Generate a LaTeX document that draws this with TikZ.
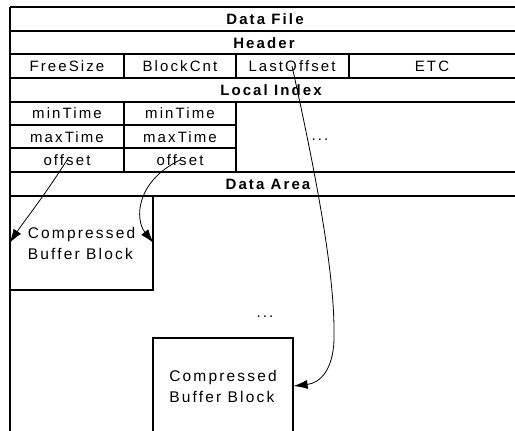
\documentclass[tikz,border=0pt]{standalone}
\usepackage{fontspec}
\setmainfont{Liberation Sans}[LetterSpace=14]
\usetikzlibrary{arrows.meta}

\tikzset{
  cell/.style={inner sep=0pt, font=\fontsize{15}{21}\selectfont},
  bcell/.style={inner sep=0pt, font=\fontsize{15}{21}\selectfont\bfseries},
  block/.style={draw, line width=1.1pt, inner sep=0pt, align=left,
    font=\fontsize{15.5}{21}\selectfont},
  ptr/.style={-{Latex[length=14pt,width=9pt]}, line width=0.8pt},
}

\begin{document}
\begin{tikzpicture}[x=1pt, y=-1pt, line width=1.2pt]
    \useasboundingbox (0,0) rectangle (515,431);
    % frame
    \draw (10,7) -- (516,7);
    \foreach \y in {31,54,78,102,172,196}
      \draw (10,\y) -- (516,\y);
    \draw (10,125) -- (236,125);
    \draw (10,148) -- (236,148);
    \draw (10,7) -- (10,433);
    % header fields
    \draw (124,54) -- (124,78) (236,54) -- (236,78) (349,54) -- (349,78);
    % local index
    \draw (124,102) -- (124,172) (236,102) -- (236,172);
    % titles
    \node [bcell] (file)  at (265,19)  {Data File};
    \node [bcell] (hdr)   at (264,43)  {Header};
    \node [bcell] (lidx)  at (271,90)  {Local Index};
    \node [bcell] (darea) at (268,184) {Data Area};
    % header row
    \node [cell] (free)    at (67,66)  {FreeSize};
    \node [cell] (bcnt)    at (180,66) {BlockCnt};
    \node [cell] (lastoff) at (292,66) {LastOffset};
    \node [cell] (etc)     at (432,66) {ETC};
    % index entries
    \node [cell] (min1) at (67,113)  {minTime};
    \node [cell] (min2) at (180,113) {minTime};
    \node [cell] (max1) at (67,137)  {maxTime};
    \node [cell] (max2) at (180,137) {maxTime};
    \node [cell] (off1) at (67,160)  {offset};
    \node [cell] (off2) at (180,160) {offset};
    \node [cell] (dots1) at (320,140) {...};
    % data blocks
    \node [block, minimum width=143pt, minimum height=94pt] (blk1) at (81.5,243)
      {Compressed\\Buffer Block};
    \node [block, minimum width=140pt, minimum height=96pt] (blk2) at (223,386)
      {Compressed\\Buffer Block};
    \node [cell] (dots2) at (265,317) {...};
    % pointers
    \draw [ptr] (off1.center) .. controls (45,195) and (25,220) .. (blk1.west);
    \draw [ptr] (off2.center) .. controls (135,182) and (135,220) .. (blk1.east);
    \draw [ptr] (lastoff.center) .. controls (325,215) and (335,290) .. (334,340)
      .. controls (333,370) and (320,383) .. (blk2.east);
  \end{tikzpicture}
\end{document}
